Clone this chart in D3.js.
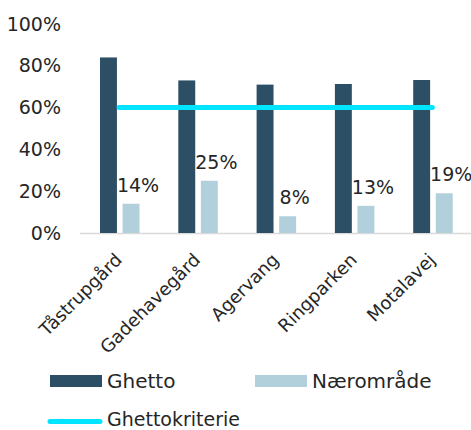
<!DOCTYPE html>
<html>
<head>
<meta charset="utf-8">
<script src="https://cdn.jsdelivr.net/npm/d3@7"></script>
<style>
  body { margin: 0; background: #fff; }
  text { font-family: "DejaVu Sans", sans-serif; fill: #262626; }
</style>
</head>
<body>
<script>
	// chart data
	var categories = ["Tåstrupgård", "Gadehavegård", "Agervang", "Ringparken", "Motalavej"];
	var ghetto = [0.84, 0.73, 0.71, 0.713, 0.732];
	var naer = [0.14, 0.25, 0.08, 0.13, 0.19];
	var kriterie = [0.6, 0.6, 0.6, 0.6, 0.6];
	var yTicks = [0, 0.2, 0.4, 0.6, 0.8, 1];
	var seriesNames = ["Ghetto", "Næromr\u00e5de", "Ghettokriterie"];

	var w = 471;
	var h = 430;

	var svg = d3.select("body")
		.append("svg")
		.attr("width", w)
		.attr("height", h);

	// scales
	var x = d3.scaleBand()
		.domain(categories)
		.range([80, 471.5])
		.padding(0);

	var xSub = d3.scaleBand()
		.domain(["ghetto", "naer"])
		.range([20, 59.5])
		.paddingInner(0.25);

	var y = d3.scaleLinear()
		.domain([0, 1])
		.range([233, 24]);

	// y axis labels (no axis line)
	var yAxis = d3.axisLeft(y)
		.tickValues(yTicks)
		.tickFormat(d3.format(".0%"))
		.tickSize(0)
		.tickPadding(0);

	var yGuide = svg.append("g")
		.attr("transform", "translate(61,0)")
		.call(yAxis);
	yGuide.select(".domain").remove();
	yGuide.selectAll("text")
		.attr("font-size", "19px")
		.attr("font-family", "DejaVu Sans")
		.attr("fill", "#262626");

	// baseline
	svg.append("line")
		.attr("x1", 80)
		.attr("x2", 471)
		.attr("y1", y(0) + 0.5)
		.attr("y2", y(0) + 0.5)
		.attr("stroke", "#d9d9d9")
		.attr("stroke-width", 1.5);

	// ghetto bars
	svg.selectAll("rect.ghetto")
		.data(ghetto)
		.enter()
		.append("rect")
		.attr("class", "ghetto")
		.attr("x", function(d, i) { return x(categories[i]) + xSub("ghetto"); })
		.attr("y", function(d) { return y(d); })
		.attr("width", xSub.bandwidth())
		.attr("height", function(d) { return y(0) - y(d); })
		.attr("fill", "#2d4f65");

	// naer bars
	svg.selectAll("rect.naer")
		.data(naer)
		.enter()
		.append("rect")
		.attr("class", "naer")
		.attr("x", function(d, i) { return x(categories[i]) + xSub("naer"); })
		.attr("y", function(d) { return y(d); })
		.attr("width", xSub.bandwidth())
		.attr("height", function(d) { return y(0) - y(d); })
		.attr("fill", "#b1d0dc");

	// naer labels
	svg.selectAll("text.lbl")
		.data(naer)
		.enter()
		.append("text")
		.attr("class", "lbl")
		.text(function(d) { return d3.format(".0%")(d); })
		.attr("text-anchor", "middle")
		.attr("x", function(d, i) { return x(categories[i]) + xSub("naer") + xSub.bandwidth() / 2 + 7; })
		.attr("y", function(d) { return y(d) - 12; })
		.attr("font-size", "19px");

	// ghettokriterie line
	var line = d3.line()
		.x(function(d, i) { return x(categories[i]) + x.bandwidth() / 2; })
		.y(function(d) { return y(d); });

	svg.append("path")
		.datum(kriterie)
		.attr("d", line)
		.attr("fill", "none")
		.attr("stroke", "#00e5ff")
		.attr("stroke-width", 5)
		.attr("stroke-linecap", "round");

	// x labels
	svg.selectAll("text.cat")
		.data(categories)
		.enter()
		.append("text")
		.attr("class", "cat")
		.text(function(d) { return d; })
		.attr("text-anchor", "end")
		.attr("transform", function(d) {
			return "translate(" + (x(d) + x.bandwidth() / 2 + 4) + ",261) rotate(-45)";
		})
		.attr("font-size", "18px");

	// legend
	var lg = svg.append("g");
	lg.append("rect").attr("x", 50).attr("y", 375).attr("width", 52).attr("height", 12).attr("fill", "#2d4f65");
	lg.append("text").attr("x", 107).attr("y", 388).attr("font-size", "20px").text(seriesNames[0]);
	lg.append("rect").attr("x", 255).attr("y", 375).attr("width", 52).attr("height", 12).attr("fill", "#b1d0dc");
	lg.append("text").attr("x", 312).attr("y", 388).attr("font-size", "20px").text(seriesNames[1]);
	lg.append("line").attr("x1", 50).attr("x2", 100).attr("y1", 421.5).attr("y2", 421.5)
		.attr("stroke", "#00e5ff").attr("stroke-width", 5).attr("stroke-linecap", "round");
	lg.append("text").attr("x", 107).attr("y", 426).attr("font-size", "19px").text(seriesNames[2]);
</script>
</body>
</html>
